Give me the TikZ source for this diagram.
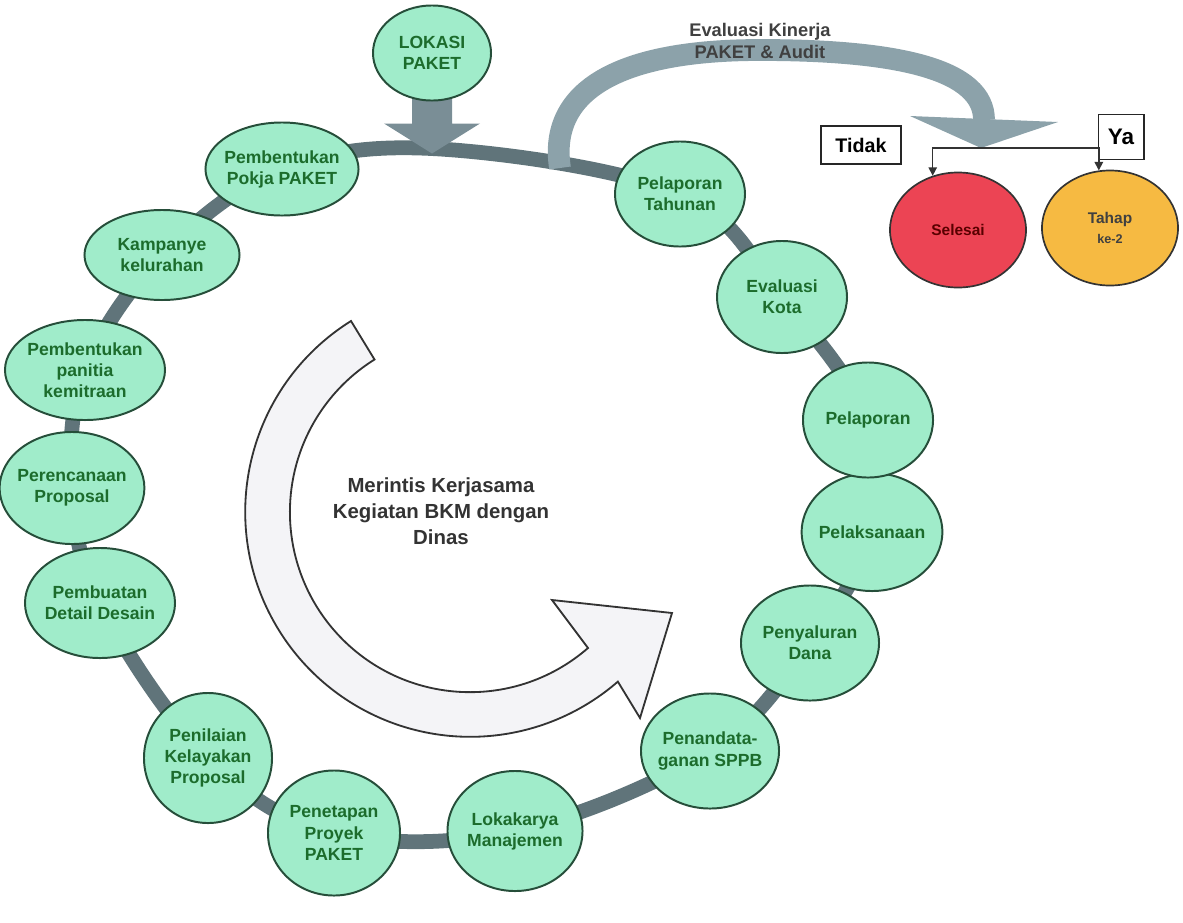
\documentclass[tikz,border=0pt]{standalone}
\usepackage{fontspec}
\setmainfont{Liberation Sans}
\usetikzlibrary{arrows.meta,shapes.geometric,backgrounds}

\definecolor{stagefill}{RGB}{160,236,202}
\definecolor{stageline}{RGB}{38,78,58}
\definecolor{stagetext}{RGB}{28,108,44}
\definecolor{ringgray}{RGB}{96,116,122}
\definecolor{loopgray}{RGB}{140,162,170}
\definecolor{dropgray}{RGB}{122,142,150}
\definecolor{endred}{RGB}{236,68,84}
\definecolor{endorange}{RGB}{246,186,66}
\definecolor{cyclefill}{RGB}{244,244,247}

\tikzset{
  stage/.style={ellipse, draw=stageline, line width=1.4pt, fill=stagefill,
    text=stagetext, font=\bfseries\fontsize{12.5}{15}\selectfont,
    align=center, inner sep=-2.5pt},
  outcome/.style={ellipse, draw=black!80, line width=1.2pt, inner sep=0pt,
    minimum width=3.4cm, minimum height=2.875cm, align=center,
    font=\bfseries\fontsize{11}{14}\selectfont},
  answer/.style={draw=black!85, line width=1.4pt, fill=white, inner sep=2pt,
    font=\bfseries},
  branch/.style={draw=black!80, line width=1.1pt, -{Triangle[width=6pt,length=6pt]}},
  ring/.style={draw=ringgray, line width=10.5pt},
}

\begin{document}
\begin{tikzpicture}[x=0.025cm, y=-0.025cm]
  \useasboundingbox (0,0) rectangle (1183,922);

  % stages of the cycle
  \node[stage, minimum width=2.95cm, minimum height=2.375cm] (lokasi) at (432,53) {LOKASI\\PAKET};
  \node[stage, minimum width=3.75cm, minimum height=2.325cm] (pokja) at (282,169) {Pembentukan\\Pokja PAKET};
  \node[stage, minimum width=3.875cm, minimum height=2.25cm] (kampanye) at (162,255) {Kampanye\\kelurahan};
  \node[stage, minimum width=4cm, minimum height=2.5cm] (panitia) at (85,370) {Pembentukan\\panitia\\kemitraan};
  \node[stage, minimum width=3.375cm, minimum height=2.8cm] (perencanaan) at (72,488) {Perencanaan\\Proposal};
  \node[stage, minimum width=3.75cm, minimum height=2.75cm] (pembuatan) at (100,603) {Pembuatan\\Detail Desain};
  \node[stage, minimum width=3.2cm, minimum height=3.25cm] (penilaian) at (208,758) {Penilaian\\Kelayakan\\Proposal};
  \node[stage, minimum width=3.3cm, minimum height=3.125cm] (penetapan) at (334,833) {Penetapan\\Proyek\\PAKET};
  \node[stage, minimum width=3.375cm, minimum height=3cm] (lokakarya) at (515,831) {Lokakarya\\Manajemen};
  \node[stage, minimum width=3.45cm, minimum height=2.875cm] (penandatanganan) at (710,751) {Penandata-\\ganan SPPB};
  \node[stage, minimum width=3.45cm, minimum height=2.875cm] (penyaluran) at (810,643) {Penyaluran\\Dana};
  \node[stage, minimum width=3.375cm, minimum height=2.95cm] (pelaksanaan) at (872,532) {Pelaksanaan};
  \node[stage, minimum width=3.25cm, minimum height=2.875cm] (pelaporan) at (868,420) {Pelaporan};
  \node[stage, minimum width=3.25cm, minimum height=2.8cm] (evkota) at (782,297) {Evaluasi\\Kota};
  \node[stage, minimum width=3.25cm, minimum height=2.625cm] (tahunan) at (680,194) {Pelaporan\\Tahunan};

  \coordinate (ringtop) at (440,149);
  \coordinate (evstart) at (560,168);
  \coordinate (split) at (980,148);

  % the ring, the audit loop and the drop arrow
  \begin{scope}[on background layer]
    \draw[ring] plot[smooth cycle, tension=0.6] coordinates {(pokja.center) (ringtop) (tahunan.center)
      (evkota.center) (pelaporan.center) (pelaksanaan.center) (penyaluran.center)
      (penandatanganan.center) (lokakarya.center) (penetapan.center) (penilaian.center)
      (pembuatan.center) (perencanaan.center) (panitia.center) (kampanye.center)};
    \draw[loopgray, line width=15.5pt] (evstart) .. controls (548,90) and (620,50) .. (760,50)
      .. controls (900,50) and (984,70) .. (984,120);
    \fill[loopgray] (910,116) -- (1058,122) -- (981,148) -- cycle;
    \fill[dropgray] (lokasi.south) ++(-20,-4) -- ++(40,0) -- ++(0,26) -- ++(28,0)
      -- ++(-48,30) -- ++(-48,-30) -- ++(28,0) -- cycle;
  \end{scope}

  \node[text=black!75, font=\bfseries\fontsize{13}{16}\selectfont, align=center] (evtext) at (760,41) {Evaluasi Kinerja\\PAKET \& Audit};

  % the end of the cycle
  \node[outcome, fill=endred, text=red!35!black] (selesai) at (958,230) {Selesai};
  \node[outcome, fill=endorange, text=black!75] (tahap) at (1110,228) {Tahap\\{\fontsize{9}{11}\selectfont ke-2}};
  \node[answer, minimum width=2cm, minimum height=0.95cm, font=\bfseries\fontsize{14}{16}\selectfont] (tidak) at (861,145) {Tidak};
  \node[answer, minimum width=1.125cm, minimum height=1.125cm, font=\bfseries\fontsize{16}{18}\selectfont] (ya) at (1121,137) {Ya};
  \draw[branch] (split) -| (selesai.115);
  \draw[branch] (split) -| (tahap.101);

  % the big turning arrow
  \filldraw[draw=black!80, line width=1.3pt, fill=cyclefill]
    (351,321) arc[start angle=238, end angle=49, radius=225]
    -- (640,718) -- (672,613) -- (552,600)
    -- (588,648) arc[start angle=49, end angle=238, radius=180] -- cycle;
  \node[text=black!80, font=\bfseries\fontsize{14.5}{18.5}\selectfont, align=center] (merintis) at (441,511) {Merintis Kerjasama\\Kegiatan BKM dengan\\Dinas};
\end{tikzpicture}
\end{document}
